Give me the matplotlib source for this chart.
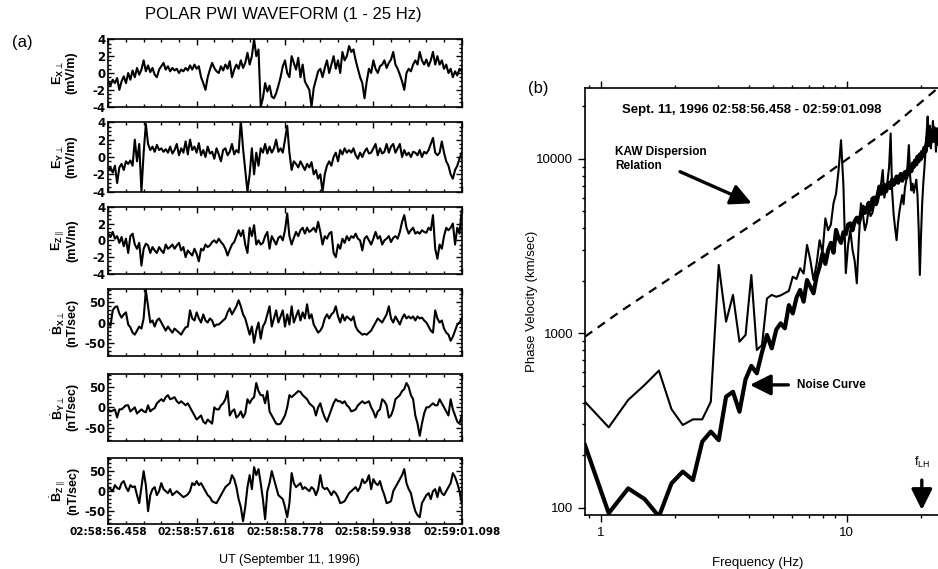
import numpy as np
import matplotlib
matplotlib.use("Agg")
import matplotlib.pyplot as plt
from matplotlib.ticker import AutoMinorLocator, MultipleLocator, LogLocator, NullFormatter

plt.rcParams['font.family'] = ['Liberation Sans', 'DejaVu Sans']
plt.rcParams['axes.unicode_minus'] = False
plt.rcParams['mathtext.fontset'] = 'custom'
plt.rcParams['mathtext.rm'] = 'Liberation Sans'
plt.rcParams['mathtext.bf'] = 'Liberation Sans:bold'

# ---- panel (a): waveforms, equally spaced samples over 4.64 s ----
t_end = 4.64
time_ticks = [0, 1.16, 2.32, 3.48, 4.64]
time_labels = ["02:58:56.458", "02:58:57.618", "02:58:58.778", "02:58:59.938", "02:59:01.098"]

ex_perp = [-1, -1.5, -0.8, -1.2, -0.6, -2.0, -1.0, -0.4, -1.2, 0.0,
           -0.8, 0.3, -0.5, 0.6, -0.2, 0.4, 1.5, 0.2, 0.9, 0.1,
           0.6, -0.2, -0.5, 0.4, 0.8, 1.2, 0.4, 0.8, 0.2, 0.6,
           0.3, 0.5, 0.0, 0.4, 0.2, 0.6, 0.3, 0.9, 0.4, 1.0,
           0.5, 0.8, -0.5, -1.2, -2.0, -0.5, 0.4, 1.2, 0.6, 0.2,
           0.0, 0.8, 0.3, 1.0, 0.5, 1.4, -0.5, 0.4, 1.0, 0.5,
           1.5, 0.6, 1.2, 2.4, 1.0, 2.0, 4.0, 2.0, 2.8, -4.0,
           -3.0, -1.2, -2.2, -1.5, -2.8, -3.0, -2.4, -1.5, -0.5, 0.8,
           1.5, 0.0, -0.5, 2.0, 1.2, 0.4, 1.8, -0.5, 1.0, -1.0,
           -1.5, -2.0, -4.0, -1.8, -0.8, 0.2, 0.5, -0.5, 0.6, 1.5,
           0.0, 1.0, 2.0, 0.5, 1.5, 0.0, 2.5, 1.5, 2.0, 3.2,
           2.5, 2.8, 1.5, 0.5, -0.5, -1.2, -3.0, -1.0, 0.5, 0.0,
           1.5, 0.5, 0.0, 0.8, 1.0, 1.5, 0.6, 1.2, 1.6, 2.5,
           1.0, 0.5, -0.2, -1.0, -2.0, 0.0, 0.5, 0.2, 1.0, 1.5,
           1.0, 2.5, 1.5, 1.0, 1.6, 0.8, 1.5, 2.5, 1.0, 2.0,
           1.0, 1.5, 0.5, 1.0, 0.0, 0.5, -0.5, 0.2, -0.3, 0.5, 0.2]

ey_perp = [-1.5, -1.2, -1.8, -1.0, -3.0, -1.2, -0.8, -1.5, -0.5, -0.8,
           -0.4, -1.0, 2.0, -0.5, 1.5, -4.0, 0.5, 3.8, 1.5, 0.8,
           1.2, 0.6, 1.4, 0.8, 1.0, 0.6, 0.9, 0.5, 1.2, 0.4,
           0.8, 1.5, 0.2, 1.0, 0.5, 1.8, 0.3, 2.0, 0.8, 1.2,
           0.5, 1.6, 0.2, 0.8, 0.0, 1.2, 0.4, 0.6, -0.2, 1.0,
           0.3, -0.5, 0.8, 1.0, 0.2, 0.6, 1.5, 0.3, 0.8, 0.5,
           4.2, 1.0, -1.5, -4.0, -2.0, 1.0, -2.0, 0.5, -1.0, 1.0,
           0.5, 1.5, 0.4, 1.2, 0.5, 1.0, 2.0, 0.6, 1.0, 0.5,
           2.0, 3.6, 0.5, -1.5, -0.5, -0.8, -1.2, -0.5, -1.0, -1.5,
           -0.8, -1.2, -0.6, -2.0, -1.5, -2.5, -2.0, -4.0, -2.0, -1.0,
           -0.5, -1.0, 0.0, 0.5, -0.5, 0.8, 0.3, 1.0, 0.5, 0.8,
           0.5, 1.0, 0.2, -0.2, 0.5, 0.0, 0.6, 1.0, 0.4, 0.5,
           1.0, 1.5, 0.2, 1.0, 0.4, 0.6, 1.5, 0.5, 1.2, 1.5,
           0.5, 1.0, 1.5, 0.0, 0.8, 0.2, 0.5, 0.0, 0.6, 0.5,
           0.2, 0.8, 0.0, 0.6, 0.4, 0.8, 1.5, 2.2, 0.5, 0.2,
           0.5, 1.8, 0.5, -0.5, -1.0, -2.0, -2.5, -1.5, -1.0, -0.2, 0.5]

ez_par = [0.8, 0.4, 1.0, 0.2, 0.5, -0.3, 0.4, -0.7, 0.2, -1.5,
          0.5, 0.8, -0.5, -1.0, -0.3, -3.0, -1.0, -0.4, -0.6, -1.5,
          -0.8, -1.2, -1.5, -0.8, -1.2, -1.5, -0.5, -1.0, -0.8, -0.5,
          -1.0, -0.6, -0.3, -1.2, -0.8, -2.0, -1.2, -1.5, -1.8, -1.0,
          -1.6, -2.5, -1.0, -1.2, -0.5, -0.8, -0.6, -0.2, 0.0, -0.3,
          0.2, -0.2, -0.5, -1.0, -1.8, -1.1, -0.5, -0.2, 0.5, 1.2,
          0.5, 1.2, -0.5, -1.5, 1.5, 0.5, 1.8, -0.5, 0.0, -0.5,
          -0.3, 0.5, 1.0, -1.0, 0.5, 0.0, -0.5, 0.3, 0.5, 0.0,
          1.2, 3.2, 0.5, -0.5, 0.3, 1.0, 0.5, 1.2, 1.5, 0.8,
          1.5, 1.0, 1.2, 1.5, 1.0, 2.2, 1.0, -0.5, 0.5, 0.2,
          0.8, 1.0, -1.5, -2.0, -0.5, -1.0, 0.2, -0.3, 0.5, 0.0,
          0.5, 0.3, 0.8, 0.2, 0.0, -1.2, 0.2, 0.5, 0.0, -0.5,
          0.2, 1.0, 0.2, 0.5, -0.5, 0.0, 0.2, 0.5, -0.2, 0.3,
          0.5, 0.2, 1.0, 2.2, 3.0, 1.5, 0.8, 1.2, 1.5, 0.8,
          1.0, 0.8, 1.2, 1.0, 0.9, 1.5, 1.2, 3.0, -1.0, -2.2,
          -0.5, -1.0, 0.5, 1.5, 1.2, 1.5, 2.0, -0.5, 1.5, 0.8, 3.5]

bx_perp = [0, -8, 30, 38, 40, 22, 12, 20, 25, -5,
           -12, -25, -30, -20, -10, -15, 10, 80, 40, 0,
           5, -10, 5, 10, 0, -10, -20, -10, -18, -25,
           -15, -20, -25, -30, -20, -12, -10, 30, 10, 5,
           25, 10, 0, 20, 5, 0, 10, 5, -10, -5,
           -5, 0, 5, 10, 25, 35, 20, 30, 40, 55,
           40, 20, 10, -10, -30, -10, -50, -20, 0, -40,
           -10, 0, 20, 40, -10, 10, 30, 0, 15, 30,
           -10, 20, -5, 40, 0, 15, 30, 5, 25, 10,
           45, 10, 20, -5, -15, -25, -20, -10, 10, 20,
           10, 20, 25, 40, 15, 0, 20, 5, 15, 10,
           5, 15, -10, -20, -25, -30, -28, -30, -25, -20,
           -10, 0, 10, 5, 0, 10, 20, 40, 10, 0,
           15, 5, -5, 10, 20, 10, 15, 10, 15, 5,
           15, 10, 12, 5, 0, -10, -20, -25, 30, 10,
           0, 5, -15, -25, -30, -45, -35, -20, -5, 0, 10]

by_perp = [-5, -10, -8, -5, -25, -5, -5, 0, 5, 5,
           -10, -5, 0, -15, -10, -5, -10, -12, 5, -10,
           -5, -2, 10, 15, 20, 15, 25, 30, 20, 22,
           25, 15, 10, 15, 10, 5, 10, 0, -10, -20,
           -30, -25, -20, -35, -40, -30, -35, -40, 0, -5,
           -5, 5, 10, 20, 40, -20, -10, -5, -25, -20,
           -10, -25, -15, 20, 10, 20, 25, 60, 40, 30,
           30, 10, 40, -10, -20, -30, -40, -42, -40, -30,
           -20, 0, 30, 25, 30, 35, 40, 38, 30, 25,
           20, 10, 5, 0, -20, 0, 10, -10, -25, -35,
           -20, -5, 10, 20, 15, 15, 10, 15, 5, 0,
           -10, -8, -5, 5, 10, 15, 10, 12, 15, 0,
           -10, -25, -10, -5, 20, 15, 5, -25, -20, -5,
           20, 25, 30, 40, 45, 60, 50, 30, 20, -20,
           -40, -70, -40, -15, 0, 0, 5, 10, 5, 5,
           20, 10, 0, -10, -20, 20, -5, -20, -35, -40, -20]

bz_par = [10, 5, 0, 15, 8, 5, 20, 25, 10, 0,
          15, 10, 12, -10, -30, 10, 50, 15, -50, -10,
          5, 10, -10, 0, 20, 5, 0, -5, 5, -10,
          -5, 0, -5, -10, -15, -12, -8, 0, 20, 15,
          25, 15, 20, 10, 0, -10, -15, -25, -28, -30,
          -20, -10, 0, 10, 15, 20, 40, 30, 10, -20,
          -40, -75, -40, 10, 40, 5, 60, 40, 55, 20,
          -20, -70, 0, 20, 50, 30, 10, -10, -15, -20,
          -40, -65, -30, 45, 20, 10, 15, 20, 5, 10,
          5, 0, 10, 5, -10, 5, 40, 10, 5, 8,
          0, -10, 0, -5, -15, -30, -28, -25, -15, -5,
          0, 5, 10, 0, 10, 30, 20, 25, 40, 5,
          30, 20, 15, 25, 5, -10, -30, -28, -25, 0,
          10, 20, 30, 40, 55, 20, 5, -5, -30, -50,
          -60, -65, -30, -20, -10, -5, -20, 0, 5, -15,
          10, -5, -10, 0, 10, 20, 45, 35, 20, 0, -30]

panels = [
    (ex_perp, r'$\mathbf{E}_{\mathbf{X}\perp}$' + '\n(mV/m)', 'E'),
    (ey_perp, r'$\mathbf{E}_{\mathbf{Y}\perp}$' + '\n(mV/m)', 'E'),
    (ez_par, r'$\mathbf{E}_{\mathbf{Z}\parallel}$' + '\n(mV/m)', 'E'),
    (bx_perp, r'$\dot{\mathbf{B}}_{\mathbf{X}\perp}$' + '\n(nT/sec)', 'B'),
    (by_perp, r'$\dot{\mathbf{B}}_{\mathbf{Y}\perp}$' + '\n(nT/sec)', 'B'),
    (bz_par, r'$\dot{\mathbf{B}}_{\mathbf{Z}\parallel}$' + '\n(nT/sec)', 'B'),
]

# ---- panel (b): phase velocity spectrum, bins of 1/4.64 s ----
first_bin = 4
signal = [405, 289, 415, 506, 611, 367, 298, 321, 321, 405,
          2465, 1166, 1660, 895, 978, 2160, 802, 857, 1585, 1660,
          1620, 1650, 1700, 1750, 2110, 2050, 2360, 2200, 3210, 2630,
          2020, 2500, 3420, 2900, 4560, 3900, 4200, 5560, 6340, 8630,
          12800, 7000, 2210, 3200, 3910, 3000, 2600, 1935, 3500, 5560,
          4800, 3900, 4300, 5200, 4700, 4900, 5500, 6070, 5600, 6300,
          7200, 8630, 6000, 6800, 7500, 9000, 14000, 6500, 4800, 4000,
          3420, 4300, 5000, 5600, 6200, 5500, 6800, 7500, 9200, 12000,
          8000, 6600, 7200, 6400, 7000, 7600, 6200, 4000, 2160, 3600,
          5500, 7200, 8800, 11000, 14000, 17500, 13000, 15500, 11500, 13500,
          16500, 12500, 14500, 11000, 15000, 12000, 13000, 16000, 12500, 14500,
          15500, 13000, 16000]
noise = [229, 93, 129, 112, 89, 138, 161, 144, 239, 273,
         244, 433, 462, 355, 545, 650, 590, 780, 978, 820,
         1050, 1141, 1068, 1450, 1300, 1600, 1772, 1518, 2020, 1850,
         1696, 2112, 2410, 2873, 2500, 3000, 3300, 2900, 3913, 3500,
         3300, 3800, 3700, 4200, 4270, 3900, 4400, 4600, 4300, 4800,
         5320, 4900, 5200, 5600, 5100, 5900, 6000, 5500, 6200, 6930,
         6300, 6700, 7100, 6500, 6900, 7300, 6800, 7600, 7100, 7400,
         7920, 7300, 7800, 8200, 7500, 8000, 8400, 7800, 8600, 8200,
         9000, 8500, 9400, 9000, 9800, 9300, 10300, 9700, 10600, 10000,
         11000, 10400, 11600, 11000, 12200, 13400, 12000, 13800, 12500, 14500,
         13000, 15000, 13500, 14000, 13000, 14500, 13500, 15000, 14000, 15500,
         14500, 16000, 15000]
kaw_freq = [0.863, 1.198, 2.1, 3.92, 7.32, 15.0, 23.5, 25.0]
kaw_vel = [957, 1330, 2255, 4000, 7245, 14970, 25500, 28000]
f_lh = 20.2

W, H = 938, 569
fig = plt.figure(figsize=(W / 100, H / 100), dpi=100)


def box(l, t, r, b):
    return [l / W, 1 - b / H, (r - l) / W, (b - t) / H]


tops = [39.3, 122.3, 206.7, 289.3, 374.0, 458.3]
bots = [106.7, 191.7, 274.0, 355.7, 440.7, 524.0]

for i, (vals, lab, kind) in enumerate(panels):
    ax = fig.add_axes(box(108.3, tops[i], 461.7, bots[i]))
    t = np.linspace(0, t_end, len(vals))
    ax.plot(t, vals, color='k', lw=1.5)
    ax.set_xlim(0, t_end)
    if kind == 'E':
        ax.set_ylim(-4, 4)
        ax.set_yticks([-4, -2, 0, 2, 4])
        ax.yaxis.set_minor_locator(MultipleLocator(0.5))
    else:
        ax.set_ylim(-82, 82)
        ax.set_yticks([-50, 0, 50])
        ax.yaxis.set_minor_locator(MultipleLocator(10))
    ax.set_xticks(time_ticks)
    ax.xaxis.set_minor_locator(AutoMinorLocator(5))
    if i == len(panels) - 1:
        ax.set_xticklabels(time_labels, fontfamily='DejaVu Sans', fontweight='bold', fontsize=7.5)
    else:
        ax.set_xticklabels([])
    for lbl in ax.get_yticklabels():
        lbl.set_fontfamily('DejaVu Sans')
        lbl.set_fontweight('bold')
        lbl.set_fontsize(8.5)
    ax.tick_params(which='both', direction='in', top=True, right=True, width=1, pad=2)
    ax.tick_params(which='major', length=4)
    ax.tick_params(which='minor', length=2)
    for s in ax.spines.values():
        s.set_linewidth(1.2)
    yc = (tops[i] + bots[i]) / 2
    fig.text(64 / W, 1 - yc / H, lab, rotation=90, ha='center', va='center',
             fontsize=9, fontweight='bold', linespacing=1.0)

fig.text(283 / W, 1 - 15 / H, "POLAR PWI WAVEFORM (1 - 25 Hz)", ha='center', va='center', fontsize=12)
fig.text(22 / W, 1 - 42 / H, "(a)", ha='center', va='center', fontsize=12)
fig.text(289 / W, 1 - 560 / H, "UT (September 11, 1996)", ha='center', va='center', fontsize=9)

# right panel
axb = fig.add_axes(box(585, 88, 944.6, 515))
freq = np.arange(first_bin, first_bin + len(signal)) / t_end
axb.plot(freq, signal, color='k', lw=1.5)
axb.plot(freq, noise, color='k', lw=3.0)
axb.plot(kaw_freq, kaw_vel, color='k', lw=1.6, ls=(0, (4, 3)))
axb.set_xscale('log')
axb.set_yscale('log')
axb.set_xlim(0.863, 25)
axb.set_ylim(90.8, 25500)
axb.set_xticks([1, 10])
axb.set_xticklabels(['1', '10'])
axb.set_yticks([100, 1000, 10000])
axb.set_yticklabels(['100', '1000', '10000'])
axb.xaxis.set_minor_locator(LogLocator(base=10, subs=np.arange(2, 10)))
axb.yaxis.set_minor_locator(LogLocator(base=10, subs=np.arange(2, 10)))
axb.xaxis.set_minor_formatter(NullFormatter())
axb.yaxis.set_minor_formatter(NullFormatter())
axb.tick_params(which='both', direction='out', top=True, right=True, labelsize=9.5, width=1)
axb.tick_params(which='major', length=5)
axb.tick_params(which='minor', length=2.5)
for s in axb.spines.values():
    s.set_linewidth(1.2)

arrow = dict(arrowstyle='-|>,head_length=0.7,head_width=0.35', lw=2.4, color='k',
             shrinkA=0, shrinkB=0, mutation_scale=18)
axb.annotate('', xy=(4.11, 5560), xytext=(2.1, 8450), arrowprops=arrow)
axb.annotate('', xy=(4.04, 506), xytext=(5.79, 506), arrowprops=arrow)
axb.annotate('', xy=(f_lh, 97), xytext=(f_lh, 144), arrowprops=arrow)

fig.text(538 / W, 1 - 89 / H, "(b)", ha='center', va='center', fontsize=12)
fig.text(751.7 / W, 1 - 110 / H, "Sept. 11, 1996 02:58:56.458 - 02:59:01.098",
         ha='center', va='center', fontsize=9.5, fontweight='bold')
fig.text(615 / W, 1 - 146 / H, "KAW Dispersion\nRelation", ha='left', va='top',
         fontsize=8.5, fontweight='bold', linespacing=1.2)
fig.text(796.7 / W, 1 - 385 / H, "Noise Curve", ha='left', va='center', fontsize=8.5, fontweight='bold')
fig.text(921.7 / W, 1 - 462 / H, r"f$_{\mathrm{LH}}$", ha='center', va='center', fontsize=9)
fig.text(532 / W, 1 - 301 / H, "Phase Velocity (km/sec)", rotation=90, ha='center', va='center', fontsize=9.5)
fig.text(758 / W, 1 - 563 / H, "Frequency (Hz)", ha='center', va='center', fontsize=9.5)

fig.savefig("out.png", dpi=100)
